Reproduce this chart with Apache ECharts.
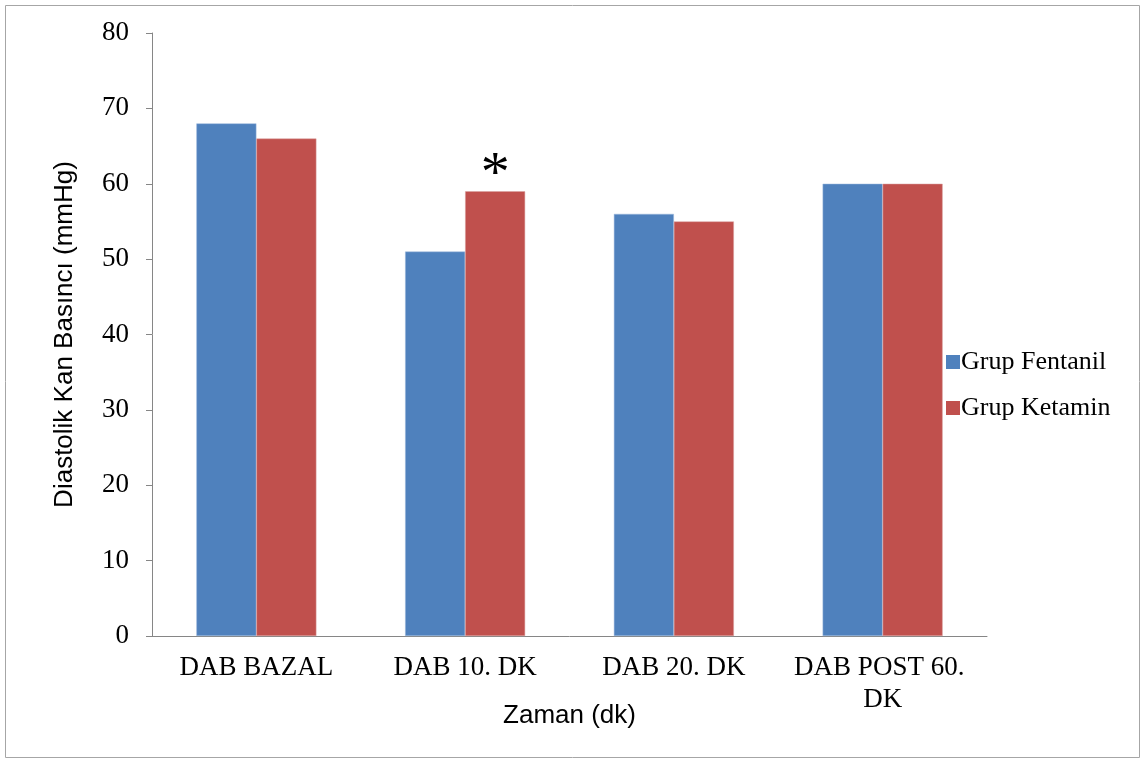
<!doctype html>
<html>
	<head>
		<meta charset="utf-8">
		<title></title>
		<script src="https://cdn.jsdelivr.net/npm/echarts@6/dist/echarts.min.js"></script>
		<style>
			html, body {
				margin: 0px;
				padding: 0px;
				background: #ffffff;
			}
			#barChart {
				width: 1146px;
				height: 761px;
			}
		</style>
	</head>

	<body>
		<div id="barChart"></div>
	</body>

	<script type="text/javascript">
		//类目
		var categories = ['DAB BAZAL', 'DAB 10. DK', 'DAB 20. DK', 'DAB POST 60. DK'];
		//系列名
		var seriesNames = ['Grup Fentanil', 'Grup Ketamin'];
		//Grup Fentanil
		var fentanil = [68, 51, 56, 60];
		//Grup Ketamin
		var ketamin = [66, 59, 55, 60];
		//星号标记 (Ketamin 系列中的类目下标)
		var starIndex = [1];
		var yTicks = [0, 10, 20, 30, 40, 50, 60, 70, 80];

		var serif = '"Liberation Serif", "Times New Roman", serif';
		var sans = '"Liberation Sans", Arial, sans-serif';

		var byId = function(id) {
			return document.getElementById(id);
		};

		var barChart = echarts.init(byId('barChart'));

		var ketaminData = ketamin.map(function(v, i) {
			if (starIndex.indexOf(i) >= 0) {
				return {
					value: v,
					label: {
						show: true,
						position: 'top',
						formatter: '*',
						distance: -13,
						fontFamily: serif,
						fontSize: 58,
						color: '#000'
					}
				};
			}
			return v;
		});

		var option = {
			animation: false,
			color: ['#4F81BD', '#C0504D'],
			graphic: [{
				type: 'rect',
				shape: { x: 5.5, y: 5.5, width: 1134, height: 752 },
				style: { fill: 'none', stroke: '#a6a6a6', lineWidth: 1 }
			}],
			grid: {
				left: 152,
				right: 159,
				top: 33,
				bottom: 125
			},
			legend: {
				orient: 'vertical',
				left: 941,
				top: 344,
				itemGap: 20,
				itemWidth: 14,
				itemHeight: 14,
				icon: 'rect',
				itemStyle: { borderWidth: 0 },
				textStyle: {
					fontFamily: serif,
					fontSize: 26,
					color: '#000',
					padding: [0, 0, 0, -4]
				},
				data: seriesNames
			},
			xAxis: {
				type: 'category',
				data: categories,
				name: 'Zaman (dk)',
				nameLocation: 'middle',
				nameGap: 67,
				nameMoveOverlap: false,
				nameTextStyle: { fontFamily: sans, fontSize: 26, color: '#000' },
				axisLine: { lineStyle: { color: '#868686' } },
				axisTick: { length: 7, lineStyle: { color: '#868686' } },
				axisLabel: {
					interval: 0,
					margin: 16,
					width: 190,
					overflow: 'break',
					lineHeight: 32,
					fontFamily: serif,
					fontSize: 27,
					color: '#000'
				}
			},
			yAxis: {
				type: 'value',
				min: yTicks[0],
				max: yTicks[yTicks.length - 1],
				interval: 10,
				name: 'Diastolik Kan Basıncı (mmHg)',
				nameLocation: 'middle',
				nameGap: 74,
				nameMoveOverlap: false,
				nameTextStyle: { fontFamily: sans, fontSize: 26, color: '#000' },
				axisLine: { show: true, lineStyle: { color: '#868686' } },
				axisTick: { show: true, length: 6, lineStyle: { color: '#868686' } },
				splitLine: { show: false },
				axisLabel: {
					margin: 23,
					fontFamily: serif,
					fontSize: 27,
					color: '#000'
				}
			},
			series: [{
				name: seriesNames[0],
				type: 'bar',
				barWidth: 60,
				barGap: '0%',
				itemStyle: { borderColor: '#9db8dc', borderWidth: 0.5 },
				data: fentanil
			}, {
				name: seriesNames[1],
				type: 'bar',
				barWidth: 60,
				barGap: '0%',
				itemStyle: { borderColor: '#dba3a1', borderWidth: 0.5 },
				data: ketaminData
			}]
		};

		barChart.setOption(option);
	</script>

</html>
